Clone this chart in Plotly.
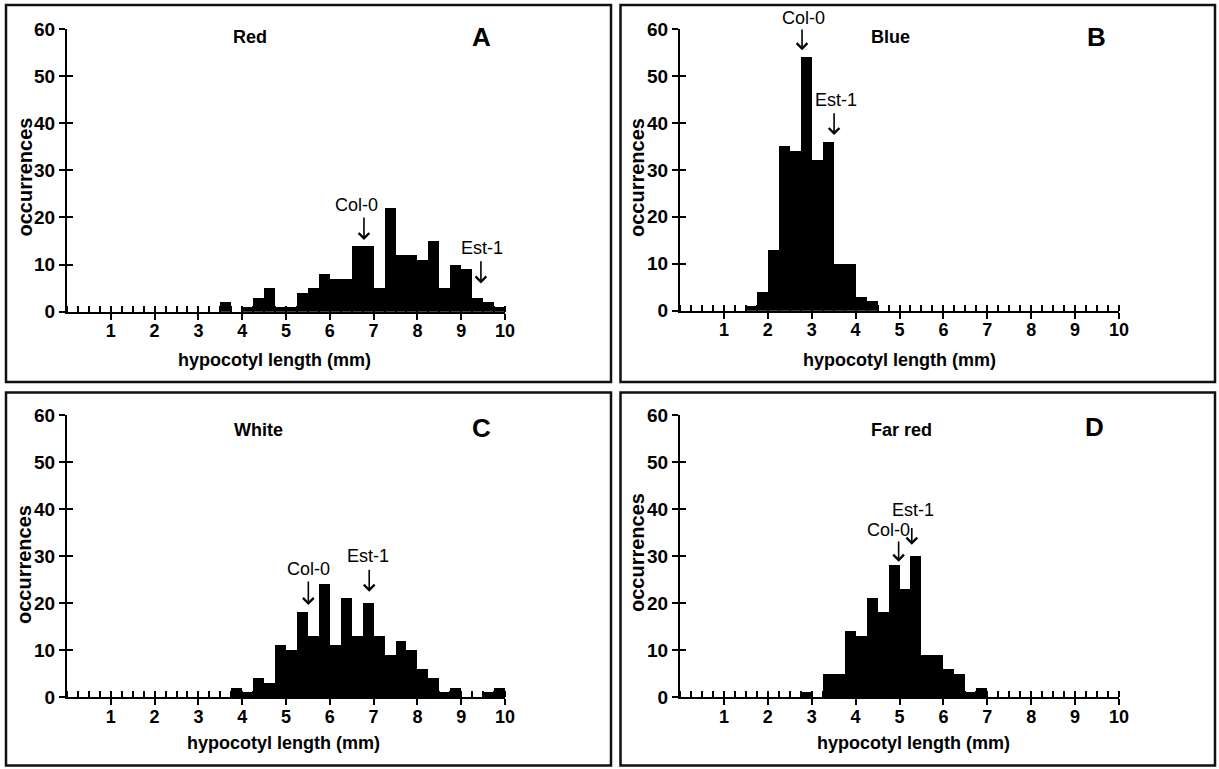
import plotly.graph_objects as go

# ---------------- data (bin left edges in mm, counts) ----------------
red_bins = [3.5, 3.75, 4.0, 4.25, 4.5, 4.75, 5.0, 5.25, 5.5, 5.75, 6.0, 6.25, 6.5,
            6.75, 7.0, 7.25, 7.5, 7.75, 8.0, 8.25, 8.5, 8.75, 9.0, 9.25, 9.5, 9.75]
red_counts = [2, 0, 1, 3, 5, 1, 1, 4, 5, 8, 7, 7, 14, 14, 5, 22, 12, 12, 11, 15, 5, 10, 9, 3, 2, 1]

blue_bins = [1.5, 1.75, 2.0, 2.25, 2.5, 2.75, 3.0, 3.25, 3.5, 3.75, 4.0, 4.25]
blue_counts = [1, 4, 13, 35, 34, 54, 32, 36, 10, 10, 3, 2]

white_bins = [3.75, 4.0, 4.25, 4.5, 4.75, 5.0, 5.25, 5.5, 5.75, 6.0, 6.25, 6.5, 6.75,
              7.0, 7.25, 7.5, 7.75, 8.0, 8.25, 8.5, 8.75, 9.0, 9.25, 9.5, 9.75]
white_counts = [2, 1, 4, 3, 11, 10, 18, 13, 24, 11, 21, 13, 20, 13, 9, 12, 10, 6, 4, 1, 2, 0, 0, 1, 2]

farred_bins = [2.75, 3.0, 3.25, 3.5, 3.75, 4.0, 4.25, 4.5, 4.75, 5.0, 5.25, 5.5, 5.75,
               6.0, 6.25, 6.5, 6.75]
farred_counts = [1, 0, 5, 5, 14, 13, 21, 18, 28, 23, 30, 9, 9, 6, 5, 1, 2]

panel_titles = ["Red", "Blue", "White", "Far red"]
panel_letters = ["A", "B", "C", "D"]
x_ticks = [1, 2, 3, 4, 5, 6, 7, 8, 9, 10]
y_ticks = [0, 10, 20, 30, 40, 50, 60]
x_title = "hypocotyl length (mm)"
y_title = "occurrences"

# strain markers: (label, x of arrow, arrow tip y, arrow tail y, text x, text y)
markers = [
    [("Col-0", 6.78, 15.2, 20.3, 6.62, 22.7), ("Est-1", 9.45, 6.0, 11.0, 9.47, 13.5)],
    [("Col-0", 2.78, 55.5, 60.2, 2.81, 62.4), ("Est-1", 3.51, 37.4, 42.4, 3.56, 44.9)],
    [("Col-0", 5.51, 19.6, 24.9, 5.51, 27.3), ("Est-1", 6.9, 22.4, 27.4, 6.88, 29.9)],
    [("Col-0", 4.98, 28.8, 33.4, 4.74, 35.6), ("Est-1", 5.28, 32.4, 36.3, 5.3, 39.8)],
]

series = [(red_bins, red_counts), (blue_bins, blue_counts),
          (white_bins, white_counts), (farred_bins, farred_counts)]

# ---------------- layout geometry (pixels) ----------------
W, H = 1219, 769
Y_MAX = 60
# plot area x0,x10 (px) and y0,y60 (px from top)
areas = [(67, 505, 311.7, 29), (680, 1119, 310.7, 29),
         (67, 505, 697, 415), (680, 1119, 697, 415)]
title_pos = [(4.18, 58.4), (4.8, 58.4), (4.38, 56.8), (5.05, 56.8)]
letter_pos = [(9.47, 58.4), (9.49, 58.4), (9.47, 57.2), (9.45, 57.5)]
ytitle_px = [(24, 177.5), (637, 178), (24, 565), (637, 553)]
xtitle_px = [(274, 360), (899, 360), (283, 743), (913, 743)]
boxes = [(6, 611, 5, 382), (620.5, 1215, 5, 382), (6, 611, 392.5, 765.5), (620.5, 1215, 392.5, 765.5)]

FONT = "Liberation Sans, Arial, Helvetica, sans-serif"
fig = go.Figure()
annotations = []
shapes = []
layout = dict(width=W, height=H, autosize=False, margin=dict(l=0, r=0, t=0, b=0, pad=0),
              paper_bgcolor="white", plot_bgcolor="white", showlegend=False,
              bargap=0, font=dict(family=FONT, color="black"))

for i, ((bins, counts), (px0, px1, py0, py1)) in enumerate(zip(series, areas)):
    n = i + 1
    o = i + 5
    xd = [px0 / W, px1 / W]
    yd = [1 - py0 / H, 1 - py1 / H]
    xa = "x" if n == 1 else f"x{n}"
    ya = "y" if n == 1 else f"y{n}"
    fig.add_trace(go.Bar(x=bins, y=counts, width=0.25, offset=0,
                         marker=dict(color="black", line=dict(width=0)),
                         xaxis=xa, yaxis=ya, hoverinfo="x+y"))
    fig.add_trace(go.Scatter(x=[None], y=[None], xaxis=f"x{o}", yaxis=f"y{o}",
                             mode="markers", hoverinfo="skip"))
    xkey = "xaxis" if n == 1 else f"xaxis{n}"
    ykey = "yaxis" if n == 1 else f"yaxis{n}"
    layout[xkey] = dict(domain=xd, anchor=ya, range=[0, 10], showgrid=False, zeroline=False,
                        automargin=False,
                        showline=True, linecolor="black", linewidth=2,
                        ticks="outside", tickvals=x_ticks, ticklen=6, tickwidth=2,
                        tickcolor="black", ticklabelstandoff=-4,
                        tickfont=dict(family=FONT, size=18, color="black", weight="bold"),
                        minor=dict(ticks="inside", dtick=0.25, tick0=0, ticklen=6,
                                   tickwidth=2, tickcolor="black", showgrid=False),
                        fixedrange=True)
    layout[ykey] = dict(domain=yd, anchor=xa, range=[0, Y_MAX], showgrid=False, zeroline=False,
                        automargin=False,
                        showline=True, linecolor="black", linewidth=2,
                        ticks="outside", tickvals=y_ticks, ticklen=6, tickwidth=2,
                        tickcolor="black",
                        tickfont=dict(family=FONT, size=19, color="black", weight="bold"),
                        fixedrange=True)
    # overlay axes to make ticks cross the axis lines
    layout[f"xaxis{o}"] = dict(domain=xd, anchor=f"y{o}", overlaying=xa, range=[0, 10],
                              automargin=False,
                              showgrid=False, zeroline=False, showline=False,
                              ticks="inside", tickvals=x_ticks, ticklen=6, tickwidth=2,
                              tickcolor="black", showticklabels=False, fixedrange=True)
    layout[f"yaxis{o}"] = dict(domain=yd, anchor=f"x{o}", overlaying=ya, range=[0, Y_MAX],
                              automargin=False,
                              showgrid=False, zeroline=False, showline=False,
                              ticks="inside", tickvals=y_ticks, ticklen=6, tickwidth=2,
                              tickcolor="black", showticklabels=False, fixedrange=True)

    # panel title and letter
    annotations.append(dict(x=title_pos[i][0], y=title_pos[i][1], xref=xa, yref=ya,
                            xanchor="center", yanchor="middle",
                            text=f"<b>{panel_titles[i]}</b>", showarrow=False,
                            font=dict(family=FONT, size=18, color="black")))
    annotations.append(dict(x=letter_pos[i][0], y=letter_pos[i][1], xref=xa, yref=ya,
                            xanchor="center", yanchor="middle",
                            text=f"<b>{panel_letters[i]}</b>", showarrow=False,
                            font=dict(family=FONT, size=26, color="black")))
    # strain arrows
    for (lab, axx, tip, tail, tx, ty) in markers[i]:
        if ty > Y_MAX:
            annotations.append(dict(x=tx, y=ty / Y_MAX, xref=xa, yref=f"{ya} domain",
                                    xanchor="center", yanchor="middle",
                                    text=lab, showarrow=False,
                                    font=dict(family=FONT, size=18, color="black")))
        else:
            annotations.append(dict(x=tx, y=ty, xref=xa, yref=ya,
                                    xanchor="center", yanchor="middle",
                                    text=lab, showarrow=False,
                                    font=dict(family=FONT, size=18, color="black")))
        annotations.append(dict(x=axx, y=tip, ax=axx, ay=tail, xref=xa, yref=ya,
                                axref=xa, ayref=ya, text="", showarrow=True,
                                arrowhead=4, arrowsize=1.3, arrowwidth=1.6,
                                arrowcolor="black", standoff=0, startstandoff=0))
    # axis titles
    annotations.append(dict(x=ytitle_px[i][0] / W, y=1 - ytitle_px[i][1] / H,
                            xref="paper", yref="paper", text=f"<b>{y_title}</b>",
                            xanchor="center", yanchor="middle",
                            textangle=-90, showarrow=False,
                            font=dict(family=FONT, size=20, color="black")))
    annotations.append(dict(x=xtitle_px[i][0] / W, y=1 - xtitle_px[i][1] / H,
                            xref="paper", yref="paper", text=f"<b>{x_title}</b>",
                            xanchor="center", yanchor="middle",
                            showarrow=False,
                            font=dict(family=FONT, size=18, color="black")))
    bx0, bx1, by0, by1 = boxes[i]
    shapes.append(dict(type="rect", xref="paper", yref="paper",
                       x0=bx0 / W, x1=bx1 / W, y0=1 - by1 / H, y1=1 - by0 / H,
                       line=dict(color="#111111", width=2.5), fillcolor="rgba(0,0,0,0)"))

layout["annotations"] = annotations
layout["shapes"] = shapes
fig.update_layout(**layout)
fig.write_html("out.html")
